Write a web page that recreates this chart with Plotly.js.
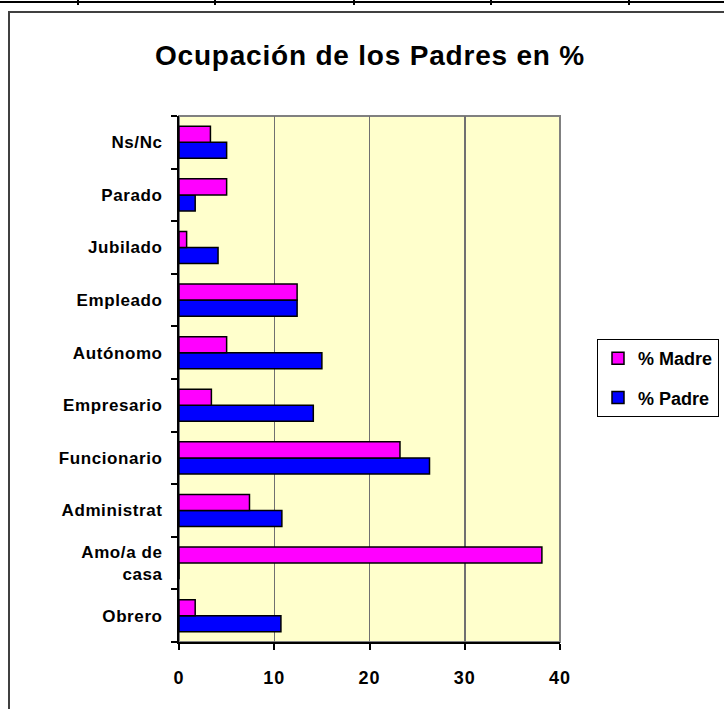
<!DOCTYPE html>
<html>
<head>
<meta charset="utf-8">
<script src="https://cdn.plot.ly/plotly-3.0.1.min.js"></script>
<style>
html,body{margin:0;padding:0;background:#fff;}
#chart{width:724px;height:709px;}
#chart .ytick text{letter-spacing:0.6px;}
#chart .xtick text{letter-spacing:1px;}
#chart text.gtitle{letter-spacing:0.8px;}
</style>
</head>
<body>
<div id="chart"></div>
<script>
const categories = ["Obrero", "Amo/a de<br>casa", "Administrat", "Funcionario", "Empresario", "Autónomo", "Empleado", "Jubilado", "Parado", "Ns/Nc"];
const padre = [10.7, 0, 10.8, 26.3, 14.1, 15.0, 12.4, 4.1, 1.7, 5.0];
const madre = [1.7, 38.1, 7.4, 23.2, 3.4, 5.0, 12.4, 0.8, 5.0, 3.3];
const xTicks = [0, 10, 20, 30, 40];
const seriesNames = ["% Padre", "% Madre"];

const FONT = "Arial, 'Liberation Sans', sans-serif";
const L = 179, R = 560, T = 116, B = 642, W = 724, H = 709;
const pw = R - L, ph = B - T;
const px = x => (x - L) / pw;
const py = y => (B - y) / ph;

const traces = [
  {type: "bar", orientation: "h", name: seriesNames[0], legendgroup: "p", legendrank: 2, y: categories, x: padre,
   marker: {color: "#0000FF", line: {color: "#000", width: 1.5}}},
  {type: "bar", orientation: "h", name: seriesNames[1], legendgroup: "m", legendrank: 1, y: categories, x: madre,
   marker: {color: "#FF00FF", line: {color: "#000", width: 1.5}}}
];

const shapes = [
  {type: "rect", xref: "paper", yref: "paper", x0: px(9), x1: px(760), y0: py(760), y1: py(12),
   line: {color: "#404040", width: 2}, layer: "below"},
  {type: "line", xref: "paper", yref: "paper", x0: px(-5), x1: px(730), y0: py(2), y1: py(2),
   line: {color: "#000", width: 2}},
  {type: "rect", xref: "paper", yref: "paper", x0: 0, x1: 1, y0: 0, y1: 1,
   line: {color: "#808080", width: 2}, layer: "below"}
];
[78, 215, 354, 491, 629].forEach(t => shapes.push({
  type: "line", xref: "paper", yref: "paper", x0: px(t), x1: px(t), y0: py(0), y1: py(5),
  line: {color: "#000", width: 2}
}));

const layout = {
  width: W, height: H,
  margin: {l: L, r: W - R, t: T, b: H - B, pad: 0, autoexpand: false},
  paper_bgcolor: "#fff",
  plot_bgcolor: "#FFFFCC",
  font: {family: FONT, color: "#000"},
  title: {text: "<b>Ocupación de los Padres en %</b>", font: {family: FONT, size: 28, color: "#000"},
          x: 370 / W, xref: "container", xanchor: "center", y: 1 - 55 / H, yref: "container", yanchor: "middle"},
  barmode: "group", bargap: 0.39, bargroupgap: 0,
  showlegend: true,
  legend: {x: px(597), y: py(339), xanchor: "left", yanchor: "top", traceorder: "grouped",
           tracegroupgap: 13, itemwidth: 30,
           bordercolor: "#000", borderwidth: 1, bgcolor: "#fff",
           font: {family: FONT, size: 18, color: "#000", weight: "bold"}},
  xaxis: {range: [0, 40], tickvals: xTicks, ticktext: xTicks.map(v => "<b>" + v + "</b>"),
          showgrid: true, gridcolor: "#707070", gridwidth: 1.5, zeroline: false,
          showline: true, linecolor: "#000", linewidth: 2,
          ticks: "outside", ticklen: 6, tickwidth: 2, tickcolor: "#000",
          tickfont: {family: FONT, size: 18, color: "#000"}, ticklabelstandoff: 12, fixedrange: true},
  yaxis: {type: "category", tickson: "boundaries", showgrid: false, zeroline: false,
          tickvals: categories, ticktext: categories.map(c => "<b>" + c + "</b>"),
          showline: true, linecolor: "#000", linewidth: 2,
          ticks: "outside", ticklen: 6, tickwidth: 2, tickcolor: "#000",
          tickfont: {family: FONT, size: 17, color: "#000"}, ticklabelstandoff: 11, fixedrange: true},
  shapes: shapes
};

Plotly.newPlot("chart", traces, layout, {displayModeBar: false, staticPlot: true});
</script>
</body>
</html>
